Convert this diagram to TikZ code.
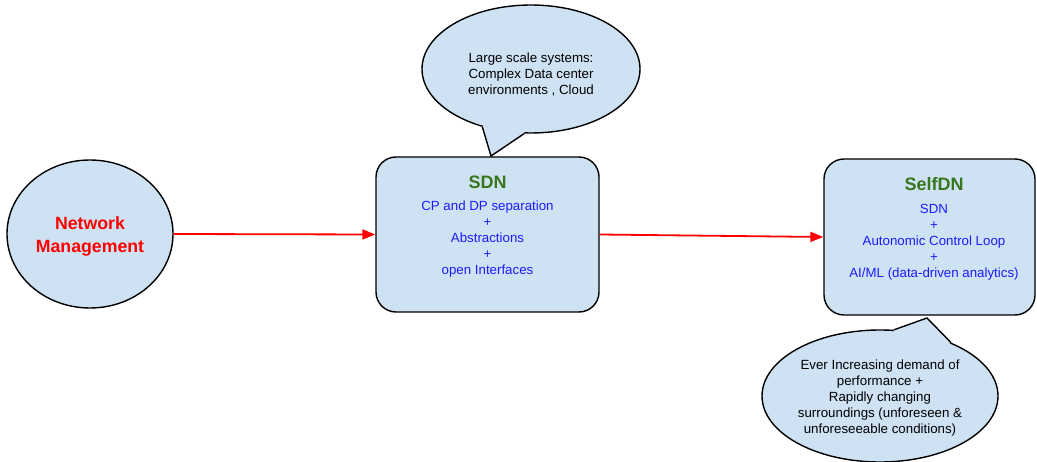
\documentclass[tikz,border=0pt]{standalone}
\usepackage{fontspec}
\setmainfont{Liberation Sans}
\usetikzlibrary{shapes.geometric,arrows.meta,calc}
\definecolor{bfill}{HTML}{CFE2F3}
\definecolor{tgreen}{HTML}{38761D}
\definecolor{tblue}{HTML}{1C1CFF}
\definecolor{ared}{HTML}{FF0000}
\tikzset{
  oval/.style={ellipse,draw=black,line width=1.4pt,fill=bfill,inner sep=0pt},
  rbox/.style={rectangle,rounded corners=20pt,draw=black,line width=1.4pt,fill=bfill,inner sep=0pt},
  ttl/.style={font=\fontsize{18}{22}\selectfont\bfseries,text=tgreen},
  body/.style={font=\fontsize{13.3}{16}\selectfont,text=tblue,align=center},
  note/.style={font=\fontsize{13.3}{16}\selectfont,text=black,align=center},
  flow/.style={draw=ared,line width=1.8pt,-{Triangle[length=13pt,width=10pt]}},
  tailfill/.style={fill=bfill},
  tailline/.style={draw=black,line width=1.4pt,line join=miter}
}
\begin{document}
\begin{tikzpicture}[x=1pt,y=-1pt]
\useasboundingbox (0,0) rectangle (1037,462);
% Network management
\node[oval,minimum width=166pt,minimum height=148pt] (nm) at (90,234) {};
\node[font=\fontsize{17.7}{22.5}\selectfont\bfseries,text=ared,align=center] (nmt) at (90,236.5) {Network\\Management};
% SDN box
\node[rbox,minimum width=223pt,minimum height=155pt] (sdn) at (487.5,234.5) {};
\node[ttl] (sdnt) at (487.5,182) {SDN};
\node[body] (sdnb) at (487.5,239) {CP and DP separation\\+\\Abstractions\\+\\open Interfaces};
% SelfDN box
\node[rbox,minimum width=211pt,minimum height=156pt] (self) at (929.5,237) {};
\node[ttl] (selft) at (934,184) {SelfDN};
\node[body] (selfb) at (934,242) {SDN\\+\\Autonomic Control Loop\\+\\AI/ML (data-driven analytics)};
% top bubble
\node[oval,minimum width=218pt,minimum height=128pt] (b1) at (531,69) {};
\coordinate (tip1) at (491,156);
\fill[tailfill] (b1.230) -- (tip1) -- (b1.264) -- (b1.center) -- cycle;
\draw[tailline] (b1.230) -- (tip1) -- (b1.264);
\node[note] (b1t) at (531,75) {Large scale systems:\\Complex Data center\\environments , Cloud};
% bottom bubble
\node[oval,minimum width=236pt,minimum height=132pt] (b2) at (880,396) {};
\coordinate (tip2) at (927,318);
\fill[tailfill] (b2.78) -- (tip2) -- (b2.37) -- (b2.center) -- cycle;
\draw[tailline] (b2.78) -- (tip2) -- (b2.37);
\node[note] (b2t) at (880,398) {Ever Increasing demand of\\performance +\\Rapidly changing\\surroundings (unforeseen \&\\unforeseeable conditions)};
% arrows
\draw[flow] (nm.east) -- (sdn.west);
\draw[flow] (sdn.east) -- (self.west);
\end{tikzpicture}
\end{document}
